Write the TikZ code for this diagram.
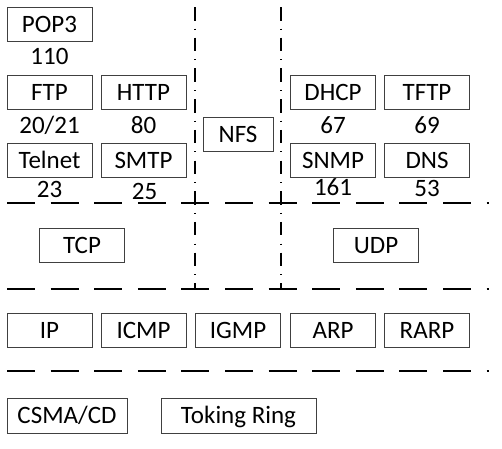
\documentclass[tikz,border=0pt]{standalone}
\usepackage{fontspec}
\setmainfont{Carlito}
\begin{document}
\begin{tikzpicture}[x=1pt,y=-1pt,
  box/.style={draw=black!75, line width=0.9pt, inner sep=0pt, minimum height=34pt,
    text height=16pt, text depth=0pt, font=\fontsize{25}{29}\selectfont},
  w85/.style={minimum width=85pt},
  lab/.style={inner sep=0pt, anchor=base, font=\fontsize{25}{29}\selectfont},
  hline/.style={line width=2pt, dash pattern=on 28pt off 15.6pt},
  vline/.style={line width=1.5pt, dash pattern=on 13.5pt off 8.1pt on 1pt off 8.1pt}]
\useasboundingbox (0,0) rectangle (502,448);
% separators
\coordinate (v1a) at (195,7);  \coordinate (v1b) at (195,290);
\coordinate (v2a) at (281,7);  \coordinate (v2b) at (281,290);
\coordinate (h1a) at (7,203);  \coordinate (h1b) at (489,203);
\coordinate (h2a) at (7,289);  \coordinate (h2b) at (489,289);
\coordinate (h3a) at (7,371);  \coordinate (h3b) at (489,371);
\draw[vline] (v1a) -- (v1b);
\draw[vline] (v2a) -- (v2b);
\draw[hline] (h1a) -- (h1b);
\draw[hline] (h2a) -- (h2b);
\draw[hline] (h3a) -- (h3b);
% application layer
\node[box,w85] (pop3) at (49.5,24) {POP3};
\node[lab] (p110) at (49.5,64) {110};
\node[box,w85] (ftp) at (49.5,92) {FTP};
\node[box,w85] (http) at (143.5,92) {HTTP};
\node[lab] (p2021) at (49.5,133) {20/21};
\node[lab] (p80) at (143.5,133) {80};
\node[box,w85] (telnet) at (49.5,160) {Telnet};
\node[box,w85] (smtp) at (143.5,160) {SMTP};
\node[lab] (p23) at (49.5,197) {23};
\node[lab] (p25) at (144.5,199) {25};
\node[box,minimum width=70pt] (nfs) at (238,134) {NFS};
\node[box,w85] (dhcp) at (333,92) {DHCP};
\node[box,w85] (tftp) at (427,92) {TFTP};
\node[lab] (p67) at (333,133) {67};
\node[lab] (p69) at (427,133) {69};
\node[box,w85] (snmp) at (333,160) {SNMP};
\node[box,w85] (dns) at (427,160) {DNS};
\node[lab] (p161) at (333,195.5) {161};
\node[lab] (p53) at (427,196) {53};
% transport layer
\node[box,w85] (tcp) at (82,245) {TCP};
\node[box,w85] (udp) at (376,245) {UDP};
% network layer
\node[box,w85] (ip) at (49.5,330) {IP};
\node[box,w85] (icmp) at (143.5,330) {ICMP};
\node[box,w85] (igmp) at (238,330) {IGMP};
\node[box,w85] (arp) at (333,330) {ARP};
\node[box,w85] (rarp) at (427,330) {RARP};
% link layer
\node[box,minimum width=120pt,minimum height=35pt] (csma) at (67,415.5) {CSMA/CD};
\node[box,minimum width=155pt,minimum height=35pt] (ring) at (238.5,415.5) {Toking Ring};
\end{tikzpicture}
\end{document}
